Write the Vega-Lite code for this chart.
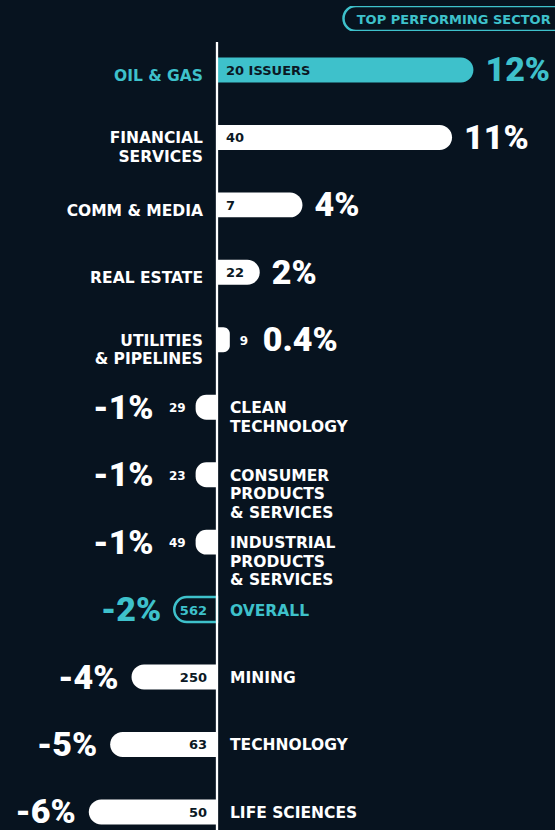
{
  "$schema": "https://vega.github.io/schema/vega-lite/v6.json",
  "background": "#07131f",
  "padding": {"left": 0, "top": 6, "right": 0, "bottom": 0},
  "spacing": 9,
  "config": {"view": {"stroke": null}},
  "datasets": {
    "sectors": [
      {"sector": "oil", "label": "OIL & GAS", "value": 12, "pct": "12%", "count": "20 ISSUERS", "kind": "top"},
      {"sector": "fin", "label": "FINANCIAL\nSERVICES", "value": 11, "pct": "11%", "count": "40", "kind": "normal"},
      {"sector": "comm", "label": "COMM & MEDIA", "value": 4, "pct": "4%", "count": "7", "kind": "normal"},
      {"sector": "re", "label": "REAL ESTATE", "value": 2, "pct": "2%", "count": "22", "kind": "normal"},
      {"sector": "util", "label": "UTILITIES\n& PIPELINES", "value": 0.6, "pct": "0.4%", "count": "9", "kind": "normal"},
      {"sector": "clean", "label": "CLEAN\nTECHNOLOGY", "value": -1, "pct": "-1%", "count": "29", "kind": "normal"},
      {"sector": "cons", "label": "CONSUMER\nPRODUCTS\n& SERVICES", "value": -1, "pct": "-1%", "count": "23", "kind": "normal"},
      {"sector": "ind", "label": "INDUSTRIAL\nPRODUCTS\n& SERVICES", "value": -1, "pct": "-1%", "count": "49", "kind": "normal"},
      {"sector": "overall", "label": "OVERALL", "value": -2, "pct": "-2%", "count": "562", "kind": "overall"},
      {"sector": "mining", "label": "MINING", "value": -4, "pct": "-4%", "count": "250", "kind": "normal"},
      {"sector": "tech", "label": "TECHNOLOGY", "value": -5, "pct": "-5%", "count": "63", "kind": "normal"},
      {"sector": "life", "label": "LIFE SCIENCES", "value": -6, "pct": "-6%", "count": "50", "kind": "normal"}
    ]
  },
  "vconcat": [
    {
      "width": 555,
      "height": 25,
      "data": {"values": [{"title": "TOP PERFORMING SECTOR"}]},
      "layer": [
        {
          "mark": {"type": "rect", "clip": true, "fill": "#07131f", "stroke": "#3ec1cb", "strokeWidth": 2.5, "cornerRadius": 12.5},
          "encoding": {
            "x": {"datum": 5.92, "type": "quantitative", "scale": {"domain": [-10.154, 15.817], "nice": false, "zero": false}, "axis": null},
            "x2": {"datum": 17}
          }
        },
        {
          "mark": {"type": "text", "align": "left", "baseline": "middle", "font": "DejaVu Sans", "fontWeight": "bold", "fontSize": 13, "color": "#3ec1cb", "dy": 1},
          "encoding": {
            "x": {"datum": 6.54, "type": "quantitative"},
            "text": {"field": "title"}
          }
        }
      ]
    },
    {
      "width": 555,
      "height": 790,
      "data": {"name": "sectors"},
      "layer": [
        {
          "transform": [{"filter": "datum.value > 0"}],
          "mark": {"type": "bar", "cornerRadiusTopRight": 12.5, "cornerRadiusBottomRight": 12.5},
          "encoding": {
            "y": {"field": "sector", "type": "nominal", "sort": null, "axis": null, "scale": {"type": "band", "domain": ["oil", "fin", "comm", "re", "util", "clean", "cons", "ind", "overall", "mining", "tech", "life"], "range": [15.5, 782.4], "paddingInner": 0.63, "paddingOuter": 0}},
            "x": {"field": "value", "type": "quantitative", "stack": null, "axis": null, "scale": {"domain": [-10.154, 15.817], "nice": false, "zero": false}},
            "color": {"condition": {"test": "datum.kind === 'top'", "value": "#3ec1cb"}, "value": "#ffffff"}
          }
        },
        {
          "transform": [{"filter": "datum.value < 0 && datum.kind !== 'overall'"}],
          "mark": {"type": "bar", "color": "#ffffff", "cornerRadiusTopLeft": 12.5, "cornerRadiusBottomLeft": 12.5},
          "encoding": {
            "y": {"field": "sector", "type": "nominal", "sort": null, "axis": null},
            "x": {"field": "value", "type": "quantitative", "stack": null, "axis": null}
          }
        },
        {
          "transform": [{"filter": "datum.kind === 'overall'"}],
          "mark": {"type": "bar", "fill": "#07131f", "stroke": "#3ec1cb", "strokeWidth": 2.5, "cornerRadiusTopLeft": 12.5, "cornerRadiusBottomLeft": 12.5},
          "encoding": {
            "y": {"field": "sector", "type": "nominal", "sort": null, "axis": null},
            "x": {"field": "value", "type": "quantitative", "stack": null, "axis": null}
          }
        },
        {
          "data": {"values": [{}]},
          "mark": {"type": "rule", "color": "#ffffff", "strokeWidth": 2.3},
          "encoding": {"x": {"datum": 0, "type": "quantitative"}}
        },
        {
          "transform": [{"filter": "datum.value > 0 && indexof(datum.label, '\\n') < 0"}],
          "mark": {"type": "text", "align": "right", "baseline": "middle", "dx": -14, "dy": 6, "font": "DejaVu Sans", "fontWeight": "bold", "fontSize": 15.5, "lineBreak": "\n", "lineHeight": 18.5},
          "encoding": {
            "y": {"field": "sector", "type": "nominal", "sort": null, "axis": null},
            "x": {"datum": 0, "type": "quantitative"},
            "text": {"field": "label"},
            "color": {"condition": {"test": "datum.kind === 'top'", "value": "#3ec1cb"}, "value": "#ffffff"}
          }
        },
        {
          "transform": [{"filter": "datum.value > 0 && indexof(datum.label, '\\n') >= 0"}],
          "mark": {"type": "text", "align": "right", "baseline": "middle", "dx": -14, "dy": 1, "font": "DejaVu Sans", "fontWeight": "bold", "fontSize": 15.5, "lineBreak": "\n", "lineHeight": 18.5, "color": "#ffffff"},
          "encoding": {
            "y": {"field": "sector", "type": "nominal", "sort": null, "axis": null},
            "x": {"datum": 0, "type": "quantitative"},
            "text": {"field": "label"}
          }
        },
        {
          "transform": [{"filter": "datum.value < 0"}],
          "mark": {"type": "text", "align": "left", "baseline": "middle", "dx": 13, "dy": 1, "font": "DejaVu Sans", "fontWeight": "bold", "fontSize": 15.5, "lineBreak": "\n", "lineHeight": 18.5},
          "encoding": {
            "y": {"field": "sector", "type": "nominal", "sort": null, "axis": null},
            "x": {"datum": 0, "type": "quantitative"},
            "text": {"field": "label"},
            "color": {"condition": {"test": "datum.kind === 'overall'", "value": "#3ec1cb"}, "value": "#ffffff"}
          }
        },
        {
          "transform": [{"filter": "datum.value >= 1"}],
          "mark": {"type": "text", "align": "left", "baseline": "middle", "dx": 12, "dy": 1.5, "font": "Roboto", "fontWeight": 900, "fontSize": 34},
          "encoding": {
            "y": {"field": "sector", "type": "nominal", "sort": null, "axis": null},
            "x": {"field": "value", "type": "quantitative"},
            "text": {"field": "pct"},
            "color": {"condition": {"test": "datum.kind === 'top'", "value": "#3ec1cb"}, "value": "#ffffff"}
          }
        },
        {
          "transform": [{"filter": "datum.value > 0 && datum.value < 1"}],
          "mark": {"type": "text", "align": "left", "baseline": "middle", "dx": 33, "dy": 1.5, "font": "Roboto", "fontWeight": 900, "fontSize": 34, "color": "#ffffff"},
          "encoding": {
            "y": {"field": "sector", "type": "nominal", "sort": null, "axis": null},
            "x": {"field": "value", "type": "quantitative"},
            "text": {"field": "pct"}
          }
        },
        {
          "transform": [{"filter": "datum.value <= -1.5"}],
          "mark": {"type": "text", "align": "right", "baseline": "middle", "dx": -13, "dy": 1.5, "font": "Roboto", "fontWeight": 900, "fontSize": 34},
          "encoding": {
            "y": {"field": "sector", "type": "nominal", "sort": null, "axis": null},
            "x": {"field": "value", "type": "quantitative"},
            "text": {"field": "pct"},
            "color": {"condition": {"test": "datum.kind === 'overall'", "value": "#3ec1cb"}, "value": "#ffffff"}
          }
        },
        {
          "transform": [{"filter": "datum.value < 0 && datum.value > -1.5"}],
          "mark": {"type": "text", "align": "right", "baseline": "middle", "dx": -42, "dy": 1.5, "font": "Roboto", "fontWeight": 900, "fontSize": 34, "color": "#ffffff"},
          "encoding": {
            "y": {"field": "sector", "type": "nominal", "sort": null, "axis": null},
            "x": {"field": "value", "type": "quantitative"},
            "text": {"field": "pct"}
          }
        },
        {
          "transform": [{"filter": "datum.value >= 1"}],
          "mark": {"type": "text", "align": "left", "baseline": "middle", "dx": 9, "dy": 1, "font": "DejaVu Sans", "fontWeight": "bold", "fontSize": 13, "color": "#0b1824"},
          "encoding": {
            "y": {"field": "sector", "type": "nominal", "sort": null, "axis": null},
            "x": {"datum": 0, "type": "quantitative"},
            "text": {"field": "count"}
          }
        },
        {
          "transform": [{"filter": "datum.value <= -1.5"}],
          "mark": {"type": "text", "align": "right", "baseline": "middle", "dx": -10, "dy": 1, "font": "DejaVu Sans", "fontWeight": "bold", "fontSize": 13},
          "encoding": {
            "y": {"field": "sector", "type": "nominal", "sort": null, "axis": null},
            "x": {"datum": 0, "type": "quantitative"},
            "text": {"field": "count"},
            "color": {"condition": {"test": "datum.kind === 'overall'", "value": "#3ec1cb"}, "value": "#0b1824"}
          }
        },
        {
          "transform": [{"filter": "datum.value > 0 && datum.value < 1"}],
          "mark": {"type": "text", "align": "left", "baseline": "middle", "dx": 10, "dy": 1, "font": "DejaVu Sans", "fontWeight": "bold", "fontSize": 12, "color": "#ffffff"},
          "encoding": {
            "y": {"field": "sector", "type": "nominal", "sort": null, "axis": null},
            "x": {"field": "value", "type": "quantitative"},
            "text": {"field": "count"}
          }
        },
        {
          "transform": [{"filter": "datum.value < 0 && datum.value > -1.5"}],
          "mark": {"type": "text", "align": "right", "baseline": "middle", "dx": -10, "dy": 1, "font": "DejaVu Sans", "fontWeight": "bold", "fontSize": 12, "color": "#ffffff"},
          "encoding": {
            "y": {"field": "sector", "type": "nominal", "sort": null, "axis": null},
            "x": {"field": "value", "type": "quantitative"},
            "text": {"field": "count"}
          }
        }
      ]
    }
  ]
}
